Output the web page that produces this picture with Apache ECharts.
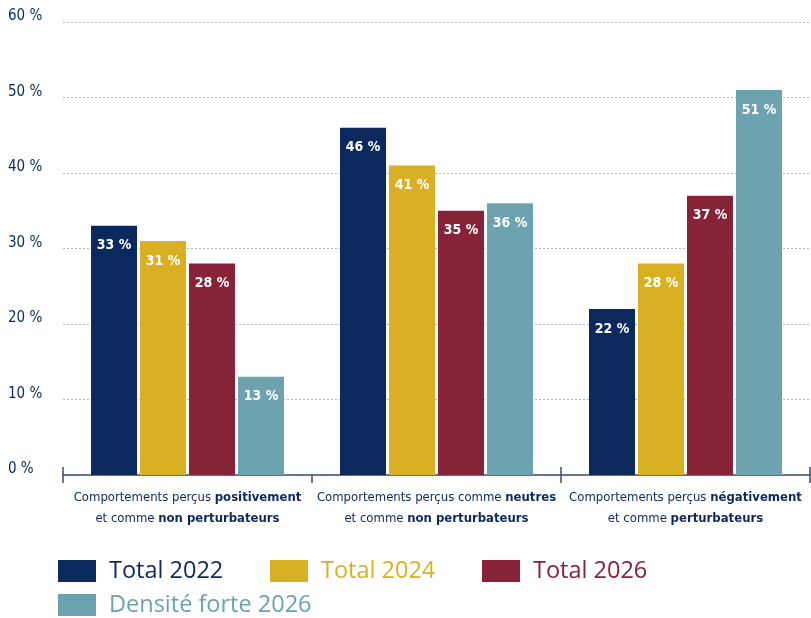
<!DOCTYPE html>
<html>
<head>
<meta charset="utf-8">
<script src="https://cdn.jsdelivr.net/npm/echarts@6/dist/echarts.min.js"></script>
<style>html,body{margin:0;padding:0;background:#fff}#c{width:811px;height:618px}</style>
</head>
<body>
<div id="c"></div>
<script>
const categories = [
  'Comportements perçus positivement et comme non perturbateurs',
  'Comportements perçus comme neutres et comme non perturbateurs',
  'Comportements perçus négativement et comme perturbateurs'
];
const categoryLabels = [
  '{n|Comportements perçus }{b|positivement}\n{n|et comme }{b|non perturbateurs}',
  '{n|Comportements perçus comme }{b|neutres}\n{n|et comme }{b|non perturbateurs}',
  '{n|Comportements perçus }{b|négativement}\n{n|et comme }{b|perturbateurs}'
];
const seriesNames = ['Total 2022', 'Total 2024', 'Total 2026', 'Densité forte 2026'];
const total2022 = [33, 46, 22];
const total2024 = [31, 41, 28];
const total2026 = [28, 35, 37];
const densite2026 = [13, 36, 51];
const yTicks = [0, 10, 20, 30, 40, 50, 60];

const colors = ['#0b295c', '#d9b023', '#862338', '#6ca3af'];
const condensed = "'Liberation Sans Narrow', 'DejaVu Sans Condensed', sans-serif";
const legendFont = "'Open Sans', 'Noto Sans', sans-serif";
const navy = '#0b295c';

const values = [total2022, total2024, total2026, densite2026];
const legendPos = [[58, 559], [270, 559], [482, 559], [58, 593]];

const chart = echarts.init(document.getElementById('c'));
chart.setOption({
  animation: false,
  grid: { left: 63, right: 1, top: 22, bottom: 143, containLabel: false, outerBoundsMode: 'none' },
  xAxis: [{
    type: 'category',
    data: categories,
    axisLine: { lineStyle: { color: '#3d4d70', width: 1.5 } },
    axisTick: { show: true, length: 8, lineStyle: { color: '#3d4d70', width: 1.5 } },
    axisLabel: {
      margin: 12,
      interval: 0,
      hideOverlap: false,
      formatter: (v, i) => categoryLabels[i],
      rich: {
        n: { fontFamily: condensed, fontSize: 13, color: navy, lineHeight: 21 },
        b: { fontFamily: condensed, fontSize: 13, color: navy, fontWeight: 'bold', lineHeight: 21 }
      }
    }
  }, {
    type: 'category',
    data: categories,
    position: 'bottom',
    axisLine: { show: false },
    axisTick: { show: true, inside: true, length: 8, lineStyle: { color: '#3d4d70', width: 1.5 } },
    axisLabel: { show: false }
  }],
  yAxis: {
    type: 'value',
    min: 0, max: 60, interval: 10,
    axisLine: { show: false },
    axisTick: { show: false },
    splitLine: { lineStyle: { type: [2, 2], color: '#a9b5c9', width: 1 } },
    axisLabel: {
      align: 'left',
      margin: 55,
      verticalAlign: 'bottom',
      lineHeight: 11,
      fontFamily: condensed,
      fontSize: 15,
      color: navy,
      formatter: v => v + ' %'
    }
  },
  legend: seriesNames.map((n, i) => ({
    left: legendPos[i][0],
    top: legendPos[i][1],
    padding: 0,
    itemWidth: 38,
    itemHeight: 22,
    icon: 'rect',
    data: [{ name: n }],
    textStyle: { color: colors[i], fontFamily: legendFont, fontSize: 23.5, padding: [0, 0, 0, 8] }
  })),
  series: seriesNames.map((name, i) => ({
    name: name,
    type: 'bar',
    data: values[i],
    barWidth: 46,
    barGap: '6.5%',
    itemStyle: { color: colors[i] },
    label: {
      show: true,
      position: 'insideTop',
      distance: 13,
      color: '#fff',
      fontFamily: condensed,
      fontWeight: 'bold',
      fontSize: 14,
      formatter: p => p.value + ' %'
    }
  }))
});
</script>
</body>
</html>
